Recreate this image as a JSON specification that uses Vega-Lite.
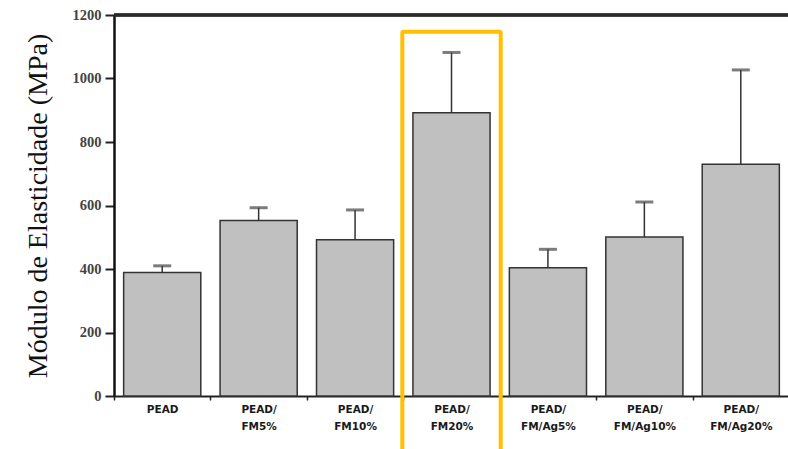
{
  "$schema": "https://vega.github.io/schema/vega-lite/v6.json",
  "autosize": "none",
  "padding": {"left": 114, "top": 15, "right": 0, "bottom": 53},
  "width": 675,
  "height": 381,
  "background": "white",
  "config": {"view": {"stroke": null}},
  "data": {"values": [
    {"cat": "PEAD", "value": 389, "upper": 410},
    {"cat": "PEAD/ FM5%", "value": 553, "upper": 593},
    {"cat": "PEAD/ FM10%", "value": 492, "upper": 586},
    {"cat": "PEAD/ FM20%", "value": 892, "upper": 1082},
    {"cat": "PEAD/ FM/Ag5%", "value": 404, "upper": 462},
    {"cat": "PEAD/ FM/Ag10%", "value": 501, "upper": 611},
    {"cat": "PEAD/ FM/Ag20%", "value": 730, "upper": 1027}
  ]},
  "encoding": {
    "x": {
      "field": "cat", "type": "nominal", "sort": null,
      "scale": {"paddingInner": 0, "paddingOuter": 0},
      "axis": {
        "title": null, "labelAngle": 0,
        "labelExpr": "split(datum.label, ' ')",
        "labelFont": "DejaVu Sans", "labelFontWeight": "bold", "labelFontSize": 10.5,
        "labelColor": "#1a1a1a", "labelLineHeight": 17, "labelPadding": 4,
        "tickBand": "extent", "tickSize": 4, "tickColor": "#222", "tickWidth": 1.5,
        "domainColor": "#222", "domainWidth": 2
      }
    }
  },
  "layer": [
    {
      "mark": {"type": "bar", "width": {"band": 0.8}, "fill": "#c0c0c0", "stroke": "#333333", "strokeWidth": 1.5},
      "encoding": {
        "y": {
          "field": "value", "type": "quantitative",
          "scale": {"domain": [0, 1200], "nice": false, "zero": true},
          "axis": {
            "title": "Módulo de Elasticidade (MPa)",
            "titleFont": "Liberation Serif", "titleFontSize": 28, "titleFontWeight": "normal",
            "titleColor": "#111", "titlePadding": 20,
            "values": [0, 100, 200, 300, 400, 500, 600, 700, 800, 900, 1000, 1100, 1200],
            "format": "d",
            "labelExpr": "datum.value % 200 == 0 ? datum.label : ''",
            "labelFont": "Liberation Serif", "labelFontSize": 14.5, "labelFontWeight": "bold", "labelColor": "#444",
            "labelPadding": 4,
            "tickSize": {"condition": {"test": "datum.value % 200 == 0", "value": 9}, "value": 3},
            "tickWidth": 2, "tickColor": "#222",
            "domainColor": "#111", "domainWidth": 2.5, "grid": false
          }
        }
      }
    },
    {
      "mark": {"type": "rule", "color": "#333333", "strokeWidth": 1.5},
      "encoding": {
        "y": {"field": "value", "type": "quantitative"},
        "y2": {"field": "upper"}
      }
    },
    {
      "mark": {"type": "tick", "color": "#444444", "thickness": 3, "size": 18},
      "encoding": {
        "y": {"field": "upper", "type": "quantitative"}
      }
    },
    {
      "mark": {"type": "rule", "color": "#2a2a2a", "strokeWidth": 2.5},
      "encoding": {"y": {"datum": 1200, "type": "quantitative"}, "x": null}
    },
    {
      "data": {"values": [{"cat": "PEAD/ FM20%", "top": 1147, "bottom": -175}]},
      "mark": {"type": "bar", "width": {"band": 1.02}, "fill": "white", "fillOpacity": 0, "stroke": "#FFC000", "strokeWidth": 4, "clip": false, "cornerRadius": 1},
      "encoding": {
        "y": {"field": "top", "type": "quantitative"},
        "y2": {"field": "bottom"}
      }
    }
  ]
}
